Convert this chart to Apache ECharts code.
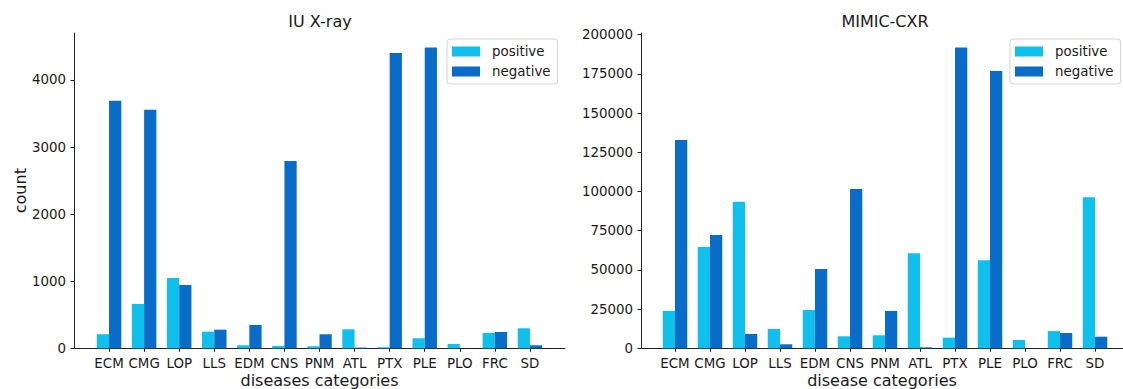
<!DOCTYPE html>
<html>
<head>
<meta charset="utf-8">
<script src="https://cdn.jsdelivr.net/npm/echarts@6/dist/echarts.min.js"></script>
<style>
html,body{margin:0;padding:0;background:#fff;}
#chart{width:1123px;height:389px;}
</style>
</head>
<body>
<div id="chart"></div>
<script>
const categories = ['ECM','CMG','LOP','LLS','EDM','CNS','PNM','ATL','PTX','PLE','PLO','FRC','SD'];
const iuPositive = [210, 660, 1048, 248, 45, 35, 30, 283, 15, 149, 64, 228, 298];
const iuNegative = [3690, 3555, 944, 278, 347, 2792, 209, 10, 4402, 4482, 0, 243, 45];
const mimicPositive = [23800, 64600, 93500, 12300, 24400, 7650, 8290, 60600, 6800, 56100, 5300, 11000, 96300];
const mimicNegative = [132850, 72260, 9100, 2550, 50570, 101600, 23800, 600, 191700, 176850, 0, 9750, 7400];
const iuTicks = [0, 1000, 2000, 3000, 4000];
const mimicTicks = [0, 25000, 50000, 75000, 100000, 125000, 150000, 175000, 200000];

const FONT = '"DejaVu Sans", sans-serif';
const TXT = '#1a1a1a';
const AX = '#222';
const C_POS = '#0fc0ec';
const C_NEG = '#0a6cc9';

const chart = echarts.init(document.getElementById('chart'), null, {renderer: 'svg'});

const TOP = 33, H = 315.3;
const grids = [
  {left: 74, top: TOP, width: 491, height: H, outerBoundsMode: 'none'},
  {left: 91.5, top: TOP, width: 456, height: H, outerBoundsMode: 'none'},
  {left: 641, top: TOP, width: 482, height: H, outerBoundsMode: 'none'},
  {left: 657.5, top: TOP, width: 455, height: H, outerBoundsMode: 'none'}
];

function outerX(idx, name) {
  return {
    type: 'value', gridIndex: idx, min: 0, max: 1,
    axisLine: {show: true, lineStyle: {color: AX, width: 1}},
    axisTick: {show: false}, axisLabel: {show: false}, splitLine: {show: false},
    name: name, nameLocation: 'middle', nameGap: 24,
    nameTextStyle: {fontFamily: FONT, fontSize: 16, color: TXT}
  };
}
function innerX(idx) {
  return {
    type: 'category', gridIndex: idx, data: categories,
    axisLine: {show: false},
    axisTick: {show: true, alignWithLabel: true, length: 3.5, lineStyle: {color: AX}},
    axisLabel: {fontFamily: FONT, fontSize: 13.4, color: TXT, margin: 9, interval: 0},
    splitLine: {show: false}
  };
}
function outerY(idx, max, ticks, name) {
  return {
    type: 'value', gridIndex: idx, min: 0, max: max,
    axisLine: {show: true, lineStyle: {color: AX, width: 1}},
    axisTick: {show: true, length: 3.5, lineStyle: {color: AX}, customValues: ticks},
    axisLabel: {fontFamily: FONT, fontSize: 13.4, color: TXT, margin: 8, customValues: ticks,
      formatter: function (v) { return String(v); }},
    splitLine: {show: false},
    name: name, nameLocation: 'middle', nameGap: 46,
    nameTextStyle: {fontFamily: FONT, fontSize: 16, color: TXT}
  };
}
function innerY(idx, max) {
  return {type: 'value', gridIndex: idx, min: 0, max: max, show: false, splitLine: {show: false}};
}
function bar(name, data, xi, color) {
  return {
    type: 'bar', name: name, data: data, xAxisIndex: xi, yAxisIndex: xi,
    barWidth: 12.25, barGap: '0%', itemStyle: {color: color}
  };
}
function legend(left) {
  return {
    orient: 'vertical', left: left, top: 39,
    data: ['positive', 'negative'],
    icon: 'rect', itemWidth: 28, itemHeight: 10, itemGap: 7,
    padding: [6, 7, 6, 5],
    backgroundColor: '#fff', borderColor: '#d4d4d4', borderWidth: 1, borderRadius: 3,
    textStyle: {fontFamily: FONT, fontSize: 13.4, color: TXT, padding: [0, 0, 0, 7]},
    selectedMode: false
  };
}

chart.setOption({
  animation: false,
  backgroundColor: '#fff',
  grid: grids,
  xAxis: [outerX(0, 'diseases categories'), innerX(1), outerX(2, 'disease categories'), innerX(3)],
  yAxis: [outerY(0, 4700, iuTicks, 'count'), innerY(1, 4700), outerY(2, 201000, mimicTicks, ''), innerY(3, 201000)],
  legend: [legend(447), legend(1010)],
  graphic: [
    {type: 'text', x: 320, y: 21, style: {text: 'IU X-ray', fontFamily: FONT, fontSize: 16, fill: TXT, align: 'center', verticalAlign: 'middle', textAlign: 'center', textVerticalAlign: 'middle'}},
    {type: 'text', x: 885, y: 21, style: {text: 'MIMIC-CXR', fontFamily: FONT, fontSize: 16, fill: TXT, align: 'center', verticalAlign: 'middle', textAlign: 'center', textVerticalAlign: 'middle'}}
  ],
  series: [
    bar('positive', iuPositive, 1, C_POS),
    bar('negative', iuNegative, 1, C_NEG),
    bar('positive', mimicPositive, 3, C_POS),
    bar('negative', mimicNegative, 3, C_NEG)
  ]
});
</script>
</body>
</html>
